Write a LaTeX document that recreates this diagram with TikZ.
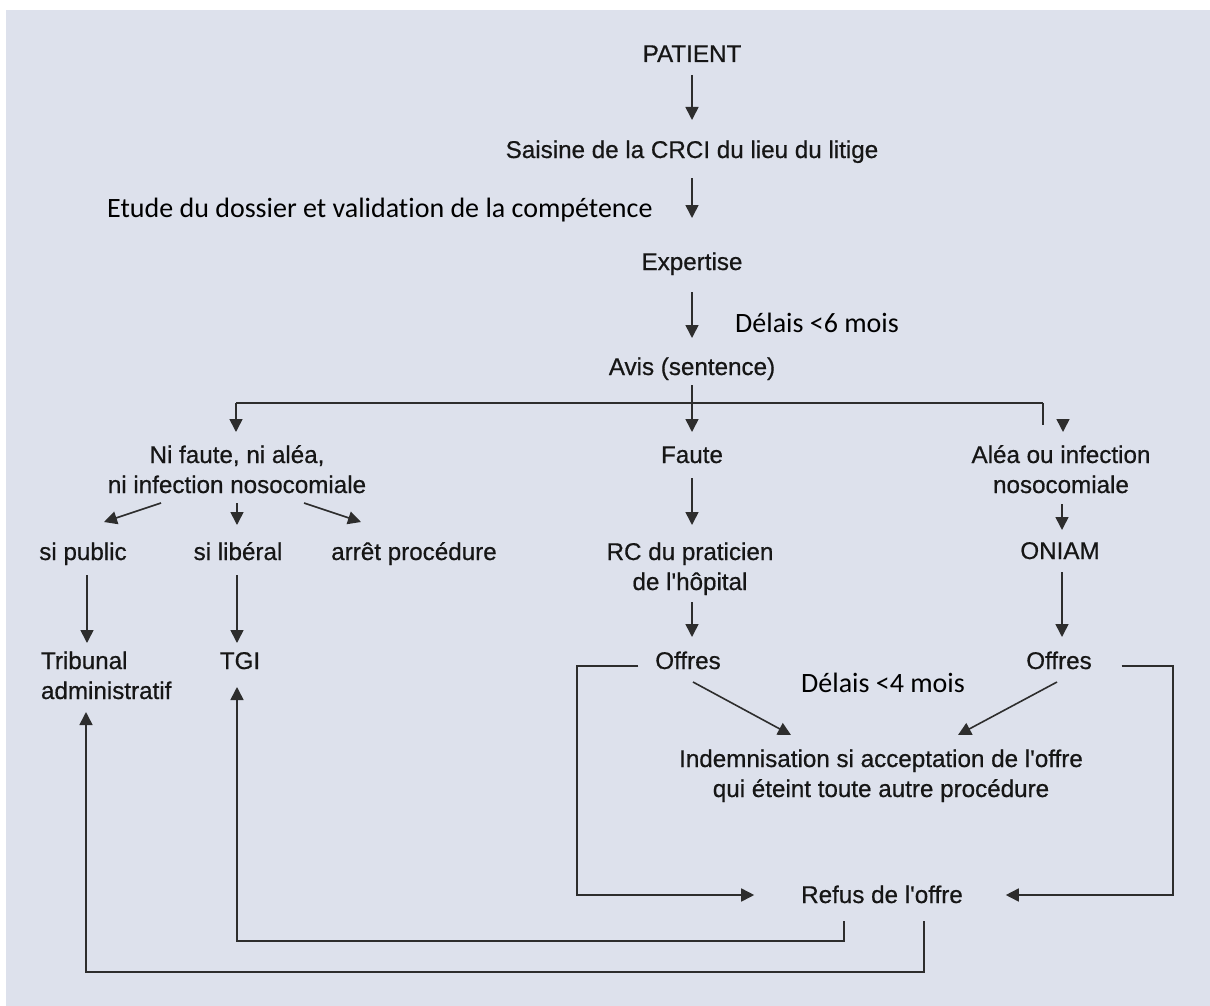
\documentclass[tikz,border=0pt]{standalone}
\usepackage{fontspec}
\setmainfont{Liberation Sans}[Ligatures=TeXOff,FakeBold=0.6]
\newfontfamily\annfamily{Carlito}[Ligatures=NoCommon]
\usetikzlibrary{arrows.meta,calc}
\definecolor{bgc}{RGB}{221,225,236}
\definecolor{ink}{RGB}{22,22,22}
\definecolor{lnc}{RGB}{45,45,45}
\newcommand\labfont{\fontsize{24.2}{30}\selectfont}
\newcommand\annfont{\annfamily\fontsize{28}{34}\selectfont}
\begin{document}
\begin{tikzpicture}[x=1pt,y=-1pt,
  lbl/.style={font=\labfont, text=ink, inner sep=0pt, outer sep=0pt, align=center, anchor=north},
  ann/.style={font=\annfont, text=black, inner sep=0pt, anchor=base west},
  ln/.style={draw=lnc, line width=1.6pt},
  arr/.style={ln, -{Triangle[length=13pt,width=13pt]}}]
\useasboundingbox (0,0) rectangle (1210,1006);
\fill[white] (0,0) rectangle (1210,1006);
\fill[bgc] (6,10) rectangle (1210,1006);
% nodes
\node[lbl] (pat) at (692,41) {PATIENT\strut};
\node[lbl] (sai) at (692,137) {Saisine de la CRCI du lieu du litige\strut};
\node[lbl] (exp) at (692,249) {Expertise\strut};
\node[lbl] (avis) at (692,354) {Avis (sentence)\strut};
\node[lbl] (ni) at (237,442) {Ni faute, ni aléa,\strut\\ni infection nosocomiale\strut};
\node[lbl] (fau) at (692,442) {Faute\strut};
\node[lbl] (ale) at (1061,442) {Aléa ou infection\strut\\nosocomiale\strut};
\node[lbl] (pub) at (83,539) {si public\strut};
\node[lbl] (lib) at (238,539) {si libéral\strut};
\node[lbl] (arp) at (414,539) {arrêt procédure\strut};
\node[lbl] (rc) at (690,539) {RC du praticien\strut\\de l'hôpital\strut};
\node[lbl] (oni) at (1060,538) {ONIAM\strut};
\node[lbl, anchor=north west, align=left] (trib) at (41,648) {Tribunal\strut\\administratif\strut};
\node[lbl] (tgi) at (240,648) {TGI\strut};
\node[lbl] (offa) at (688,648) {Offres\strut};
\node[lbl] (offb) at (1059,648) {Offres\strut};
\node[lbl] (ind) at (881,746) {Indemnisation si acceptation de l'offre\strut\\qui éteint toute autre procédure\strut};
\node[lbl] (ref) at (882,882) {Refus de l'offre\strut};
\node[ann] (etu) at (107,217) {Etude du dossier et validation de la compétence};
\node[ann] (dsix) at (735,332) {Délais <6 mois};
\node[ann] (dqua) at (801,692) {Délais <4 mois};
% main trunk
\draw[arr, shorten <=4pt, shorten >=17pt] (pat.south) -- (sai.north);
\draw[arr, shorten <=11pt, shorten >=31pt] (sai.south) -- (exp.north);
\draw[arr, shorten <=13pt, shorten >=16pt] (exp.south) -- (avis.north);
\draw[arr, shorten <=1pt, shorten >=10pt] (avis.south) -- (fau.north);
% branches
\coordinate (brl) at (236,403);
\coordinate (brr) at (1043,403);
\draw[ln] (brl) -- (brr);
\draw[arr, shorten >=10pt] (brl) -- (brl |- ni.north);
\draw[ln] (brr) -- ++(0,22);
\draw[arr] ($(ale.north)+(2,-23)$) -- ($(ale.north)+(2,-10)$);
% left subtree
\draw[arr] ($(ni.south)+(-76,1)$) -- ($(pub.north)+(21,-17)$);
\draw[arr, shorten <=1pt, shorten >=14pt] (ni.south) -- (ni.south |- lib.north);
\draw[arr] ($(ni.south)+(67,1)$) -- ($(arp.north)+(-53,-17)$);
\draw[arr, shorten >=5pt] ($(pub.south)+(4,6)$) coordinate (pa) -- (pa |- trib.north);
\draw[arr, shorten >=5pt] ($(lib.south)+(-1,6)$) coordinate (pb) -- (pb |- tgi.north);
% middle and right
\draw[arr, shorten <=6pt, shorten >=14pt] (fau.south) -- (fau.south |- rc.north);
\draw[arr, shorten <=3pt, shorten >=11pt] (fau.south |- rc.south) -- (fau.south |- offa.north);
\draw[arr, shorten <=2pt, shorten >=8pt] ($(ale.south)+(1,0)$) coordinate (pc) -- (pc |- oni.north);
\draw[arr, shorten <=4pt, shorten >=11pt] (pc |- oni.south) -- (pc |- offb.north);
\draw[arr] ($(offa.south)+(5,4)$) -- ($(ind.north)+(-90,-11)$);
\draw[arr] ($(offb.south)+(-2,4)$) -- ($(ind.north)+(77,-11)$);
% refusal loops
\draw[arr] ($(offa.west)+(-17,3)$) -- ++(-61,0) |- ($(ref.west)+(-47,-2)$);
\draw[arr] ($(offb.east)+(30,3)$) -- ++(51,0) |- ($(ref.east)+(43,-2)$);
\draw[arr] ($(ref.south)+(-38,9)$) -- ++(0,20) -| ($(pb |- tgi.south)+(0,9)$);
\draw[arr] ($(ref.south)+(42,9)$) -- ++(0,51) -| ($(pa |- trib.south)+(-1,4)$);
\end{tikzpicture}
\end{document}
